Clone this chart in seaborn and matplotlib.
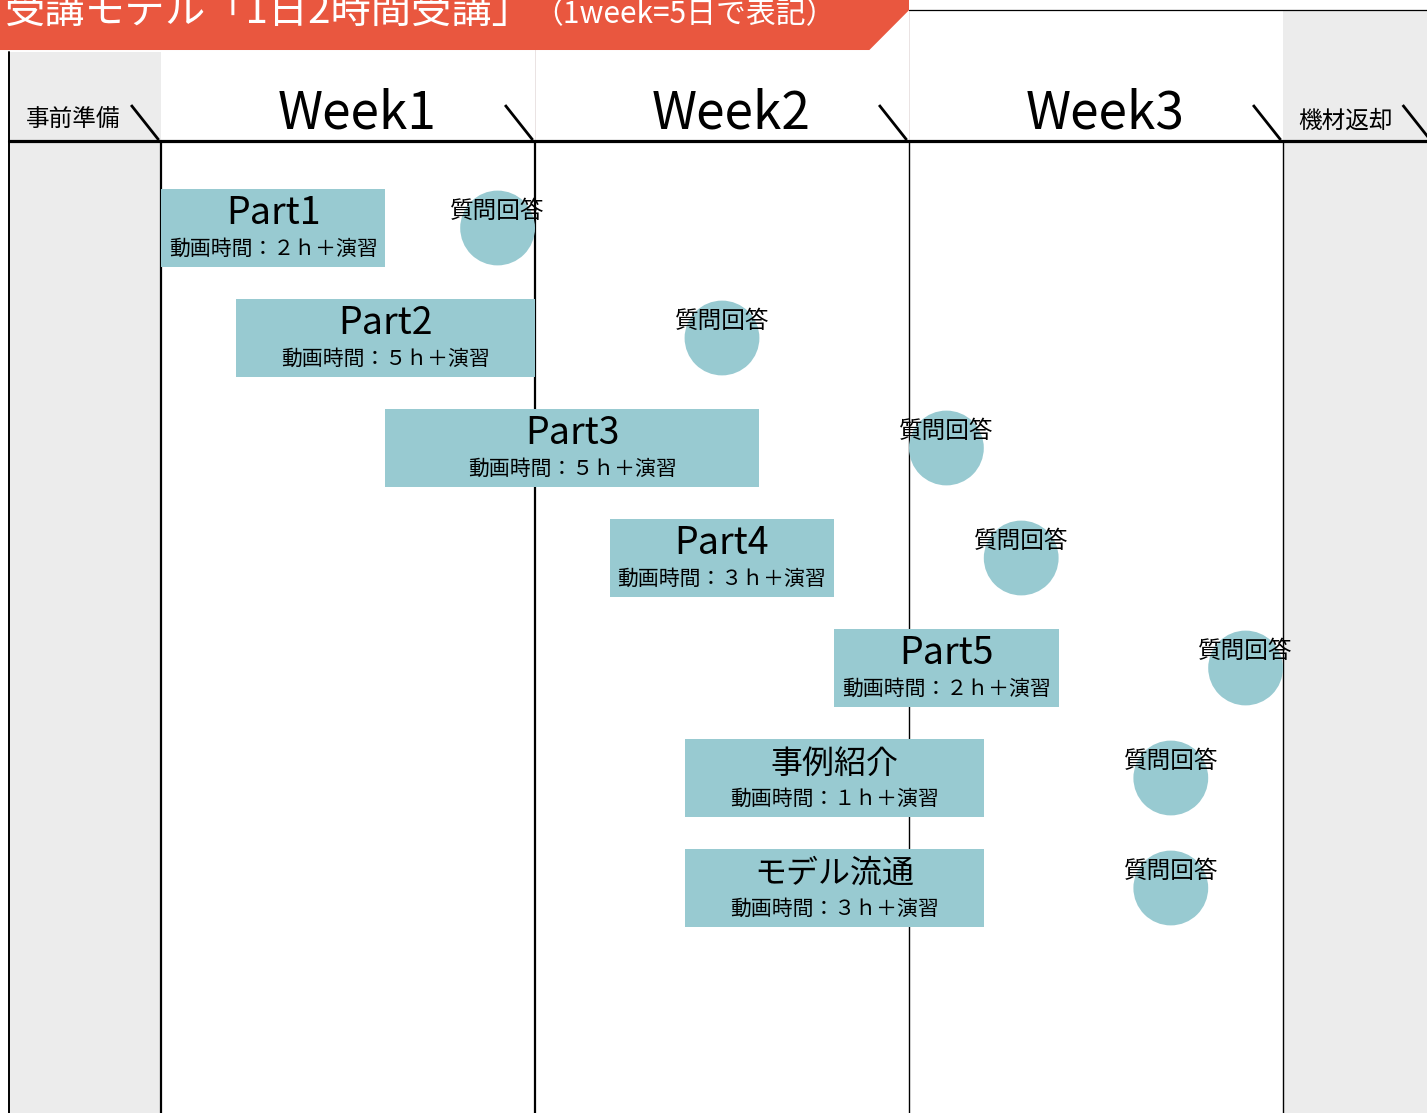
import matplotlib
matplotlib.use("Agg")
import matplotlib.pyplot as plt
from matplotlib.patches import Polygon, Rectangle
import seaborn as sns
import pandas as pd

# ---------------- data ----------------
title_main = "受講モデル「1日2時間受講」"
title_note = "（1week=5日で表記）"

col_labels = ["事前準備", "Week1", "Week2", "Week3", "機材返却"]
col_edges = [-2.03, 0, 5, 10, 15, 17]          # in days (1 week = 5 days)

task_names = ["Part1", "Part2", "Part3", "Part4", "Part5", "事例紹介", "モデル流通"]
task_start = [0, 1, 3, 6, 9, 7, 7]             # day
task_end = [3, 5, 8, 9, 12, 11, 11]            # day
video_hours = [2, 5, 5, 3, 2, 1, 3]
qa_day = [4.5, 7.5, 10.5, 11.5, 14.5, 13.5, 13.5]
qa_label = "質問回答"

# ---------------- style ----------------
sns.set_theme(style="white")
plt.rcParams["font.family"] = ["Noto Sans CJK JP", "DejaVu Sans"]
plt.rcParams["text.color"] = "black"

BAR = "#98CAD1"
RED = "#E9573F"
GREY = "#ECECEC"

PX_DAY = 74.8      # pixels per day
PX_ROW = 110.0     # pixels per row
X0, Y0 = 161, 228  # pixel of day 0 / row 0
W, H = 1427, 1113

fig = plt.figure(figsize=(W / 100, H / 100), dpi=100)
ax = fig.add_axes([0, 0, 1, 1])
ax.set_xlim(-X0 / PX_DAY, (W - X0) / PX_DAY)
ax.set_ylim((H - Y0) / PX_ROW, -Y0 / PX_ROW)
ax.axis("off")

xmin, xmax = ax.get_xlim()
ybot, ytop = ax.get_ylim()

header_y = -0.79
banner_bot = -1.618
table_top = -1.98

# grey side columns
ax.add_patch(Rectangle((col_edges[0], -1.60), col_edges[1] - col_edges[0], ybot + 1.60,
                       facecolor=GREY, edgecolor="none", zorder=0))
ax.add_patch(Rectangle((col_edges[4], table_top), xmax - col_edges[4] + 1, ybot - table_top,
                       facecolor=GREY, edgecolor="none", zorder=0))

# faint column guides above the header (under the banner)
for e in col_edges[2:4]:
    ax.plot([e, e], [table_top, header_y], color="#e6dede", lw=0.6, zorder=0.5)

# banner
tip = col_edges[3]
ax.add_patch(Polygon([(xmin - 1, ytop - 0.1), (tip, ytop - 0.1), (tip, table_top),
                      (tip - 0.53, banner_bot), (xmin - 1, banner_bot)],
                     closed=True, facecolor=RED, edgecolor="none", zorder=1))
t1 = ax.text(xmin + 0.07, -1.865, title_main, color="white", fontsize=29,
             ha="left", va="baseline", zorder=5)
fig.canvas.draw()
bb = t1.get_window_extent().transformed(ax.transData.inverted())
ax.text(bb.x1 + 0.0, -1.865, title_note, color="white", fontsize=21.5,
        ha="left", va="baseline", zorder=5)

# table lines
ax.plot([tip, xmax], [table_top, table_top], color="black", lw=0.9, zorder=2)
ax.plot([col_edges[0], col_edges[0]], [-1.60, ybot], color="black", lw=1.4, zorder=2)
ax.plot([col_edges[0], xmax], [header_y, header_y], color="black", lw=2.3, zorder=3)
for i, e in enumerate(col_edges[1:5]):
    ax.plot([e, e], [header_y, ybot], color="black", lw=1.6 if i < 2 else 1.0, zorder=2)

# header slashes and labels
for i, lab in enumerate(col_labels):
    right = col_edges[i + 1]
    ax.plot([right - 0.40, right - 0.03], [-1.118, -0.80], color="black", lw=2.0,
            solid_capstyle="butt", zorder=3)
    mid = (col_edges[i] + right) / 2
    if lab.startswith("Week"):
        ax.text(mid + 0.12, -1.035, lab, fontsize=37, ha="center", va="center", zorder=4)
    else:
        ax.text(mid - 0.16, -0.975, lab, fontsize=17, ha="center", va="center", zorder=4)

# task bars
rows = list(range(len(task_names)))
ax.barh(rows, [e - s for s, e in zip(task_start, task_end)], left=task_start,
        height=0.71, color=BAR, edgecolor="none", zorder=3)

# Q&A circles (seaborn)
qa_df = pd.DataFrame({"day": qa_day, "row": rows})
sns.scatterplot(data=qa_df, x="day", y="row", s=2900, color=BAR, edgecolor="none",
                linewidth=0, ax=ax, zorder=3, legend=False)
ax.set_xlim(xmin, xmax)
ax.set_ylim(ybot, ytop)
ax.axis("off")

fw = lambda n: chr(ord("０") + n)
for r, name, s, e, h, q in zip(rows, task_names, task_start, task_end, video_hours, qa_day):
    cx = (s + e) / 2
    fs = 27 if name.isascii() else 23
    ax.text(cx, r - 0.13, name, fontsize=fs, ha="center", va="center", zorder=5)
    ax.text(cx, r + 0.19, "動画時間：" + fw(h) + "ｈ＋演習", fontsize=15,
            ha="center", va="center", zorder=5)
    ax.text(q, r - 0.15, qa_label, fontsize=17, ha="center", va="center", zorder=5)

fig.savefig("out.png", dpi=100)
